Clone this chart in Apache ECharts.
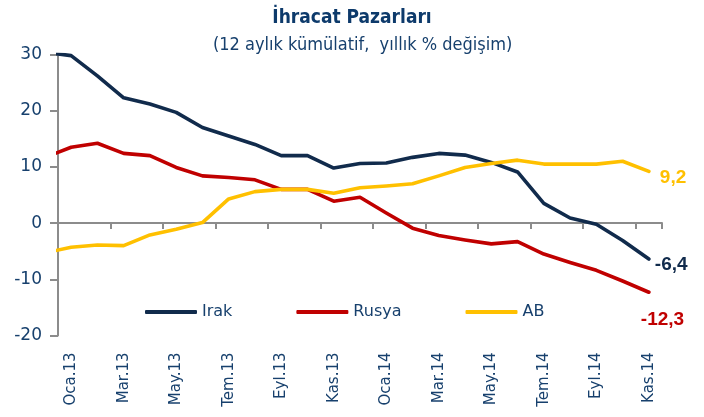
<!DOCTYPE html>
<html>
<head>
<meta charset="utf-8">
<script src="https://cdn.jsdelivr.net/npm/echarts@6/dist/echarts.min.js"></script>
<style>
  html, body { margin: 0; padding: 0; background: #fff; }
  #chart { width: 704px; height: 417px; }
</style>
</head>
<body>
<div id="chart"></div>
<script>
  // Ara.12 is only there so the lines reach the y axis (clipped at the left edge)
  var months = ['Ara.12', 'Oca.13', 'Şub.13', 'Mar.13', 'Nis.13', 'May.13', 'Haz.13', 'Tem.13', 'Ağu.13', 'Eyl.13', 'Eki.13', 'Kas.13',
    'Ara.13', 'Oca.14', 'Şub.14', 'Mar.14', 'Nis.14', 'May.14', 'Haz.14', 'Tem.14', 'Ağu.14', 'Eyl.14', 'Eki.14', 'Kas.14']
  var irak = [30.4, 29.8, 26.2, 22.3, 21.2, 19.7, 17.0, 15.5, 14.0, 12.0, 12.0, 9.8,
    10.6, 10.7, 11.7, 12.4, 12.1, 10.8, 9.1, 3.5, 0.9, -0.2, -3.1, -6.4]
  var rusya = [11.7, 13.5, 14.2, 12.4, 12.0, 9.9, 8.4, 8.1, 7.7, 6.0, 6.0, 3.9,
    4.6, 1.8, -0.9, -2.2, -3.0, -3.7, -3.3, -5.5, -7.0, -8.4, -10.3, -12.3]
  var ab = [-5.3, -4.3, -3.9, -4.0, -2.1, -1.1, 0.1, 4.3, 5.6, 6.0, 6.0, 5.3,
    6.3, 6.6, 7.0, 8.4, 9.9, 10.6, 11.2, 10.5, 10.5, 10.5, 11.0, 9.2]
  var yTicks = [-20, -10, 0, 10, 20, 30]

  var textBlue = '#17406d'
  var axisGrey = '#8c8c8c'
  var narrow = "'DejaVu Sans Condensed', Roboto, sans-serif"
  var shownMonths = months.slice(1)

  function pairs(arr) {
    return arr.map(function (v, i) { return [i, v] })
  }

  function fmt(p) {
    return p.value[1].toFixed(1).replace('.', ',')
  }

  function makeSeries(name, arr, color, offset) {
    return {
      name: name,
      type: 'line',
      xAxisIndex: 2,
      data: pairs(arr),
      clip: true,
      symbol: 'none',
      smooth: false,
      lineStyle: { color: color, width: 3.6, cap: 'round', join: 'round' },
      itemStyle: { color: color },
      endLabel: {
        show: true,
        formatter: fmt,
        offset: offset,
        color: color,
        fontFamily: 'Liberation Sans',
        fontWeight: 'bold',
        fontSize: 19
      }
    }
  }

  var chart = echarts.init(document.getElementById('chart'))
  var option = {
    animation: false,
    backgroundColor: '#fff',
    title: [
      {
        text: 'İhracat Pazarları',
        left: 'center',
        top: 4,
        textStyle: { color: '#0d3a6b', fontFamily: narrow, fontWeight: 'bold', fontSize: 19 }
      },
      {
        text: '(12 aylık kümülatif,  yıllık % değişim)',
        left: 208,
        top: 31,
        textStyle: { color: textBlue, fontFamily: narrow, fontWeight: 'normal', fontSize: 18 }
      }
    ],
    legend: {
      data: ['Irak', 'Rusya', 'AB'],
      left: 140,
      top: 299,
      itemWidth: 52,
      itemHeight: 4,
      itemGap: 64,
      icon: 'roundRect',
      textStyle: { color: textBlue, fontFamily: 'DejaVu Sans', fontSize: 16 }
    },
    grid: { left: 58, right: 42, top: 54.5, bottom: 81.5, outerBoundsMode: 'none' },
    xAxis: [
      {
        type: 'category',
        data: shownMonths,
        boundaryGap: true,
        position: 'bottom',
        axisLine: { show: false, onZero: false },
        axisTick: { show: false },
        axisLabel: { interval: 1, rotate: 90, margin: 17, color: textBlue, fontFamily: 'DejaVu Sans', fontSize: 15 }
      },
      {
        type: 'category',
        data: shownMonths,
        boundaryGap: true,
        position: 'bottom',
        axisLine: { show: true, onZero: true, lineStyle: { color: axisGrey, width: 2 } },
        axisTick: { show: true, interval: 1, length: 6, lineStyle: { color: axisGrey, width: 2 } },
        axisLabel: { show: false }
      },
      {
        type: 'value',
        min: 0.5,
        max: 23.5,
        show: false
      }
    ],
    yAxis: {
      type: 'value',
      min: yTicks[0],
      max: yTicks[yTicks.length - 1],
      interval: 10,
      axisLine: { show: true, onZero: false, lineStyle: { color: axisGrey, width: 2 } },
      axisTick: { show: true, length: 8, lineStyle: { color: axisGrey, width: 2 } },
      splitLine: { show: false },
      axisLabel: { margin: 16, color: textBlue, fontFamily: 'DejaVu Sans', fontSize: 17 }
    },
    series: [
      makeSeries('Irak', irak, '#112b4c', [-2, 6]),
      makeSeries('Rusya', rusya, '#c00000', [-16, 28]),
      makeSeries('AB', ab, '#ffc000', [3, 6])
    ]
  }
  chart.setOption(option)
</script>
</body>
</html>
